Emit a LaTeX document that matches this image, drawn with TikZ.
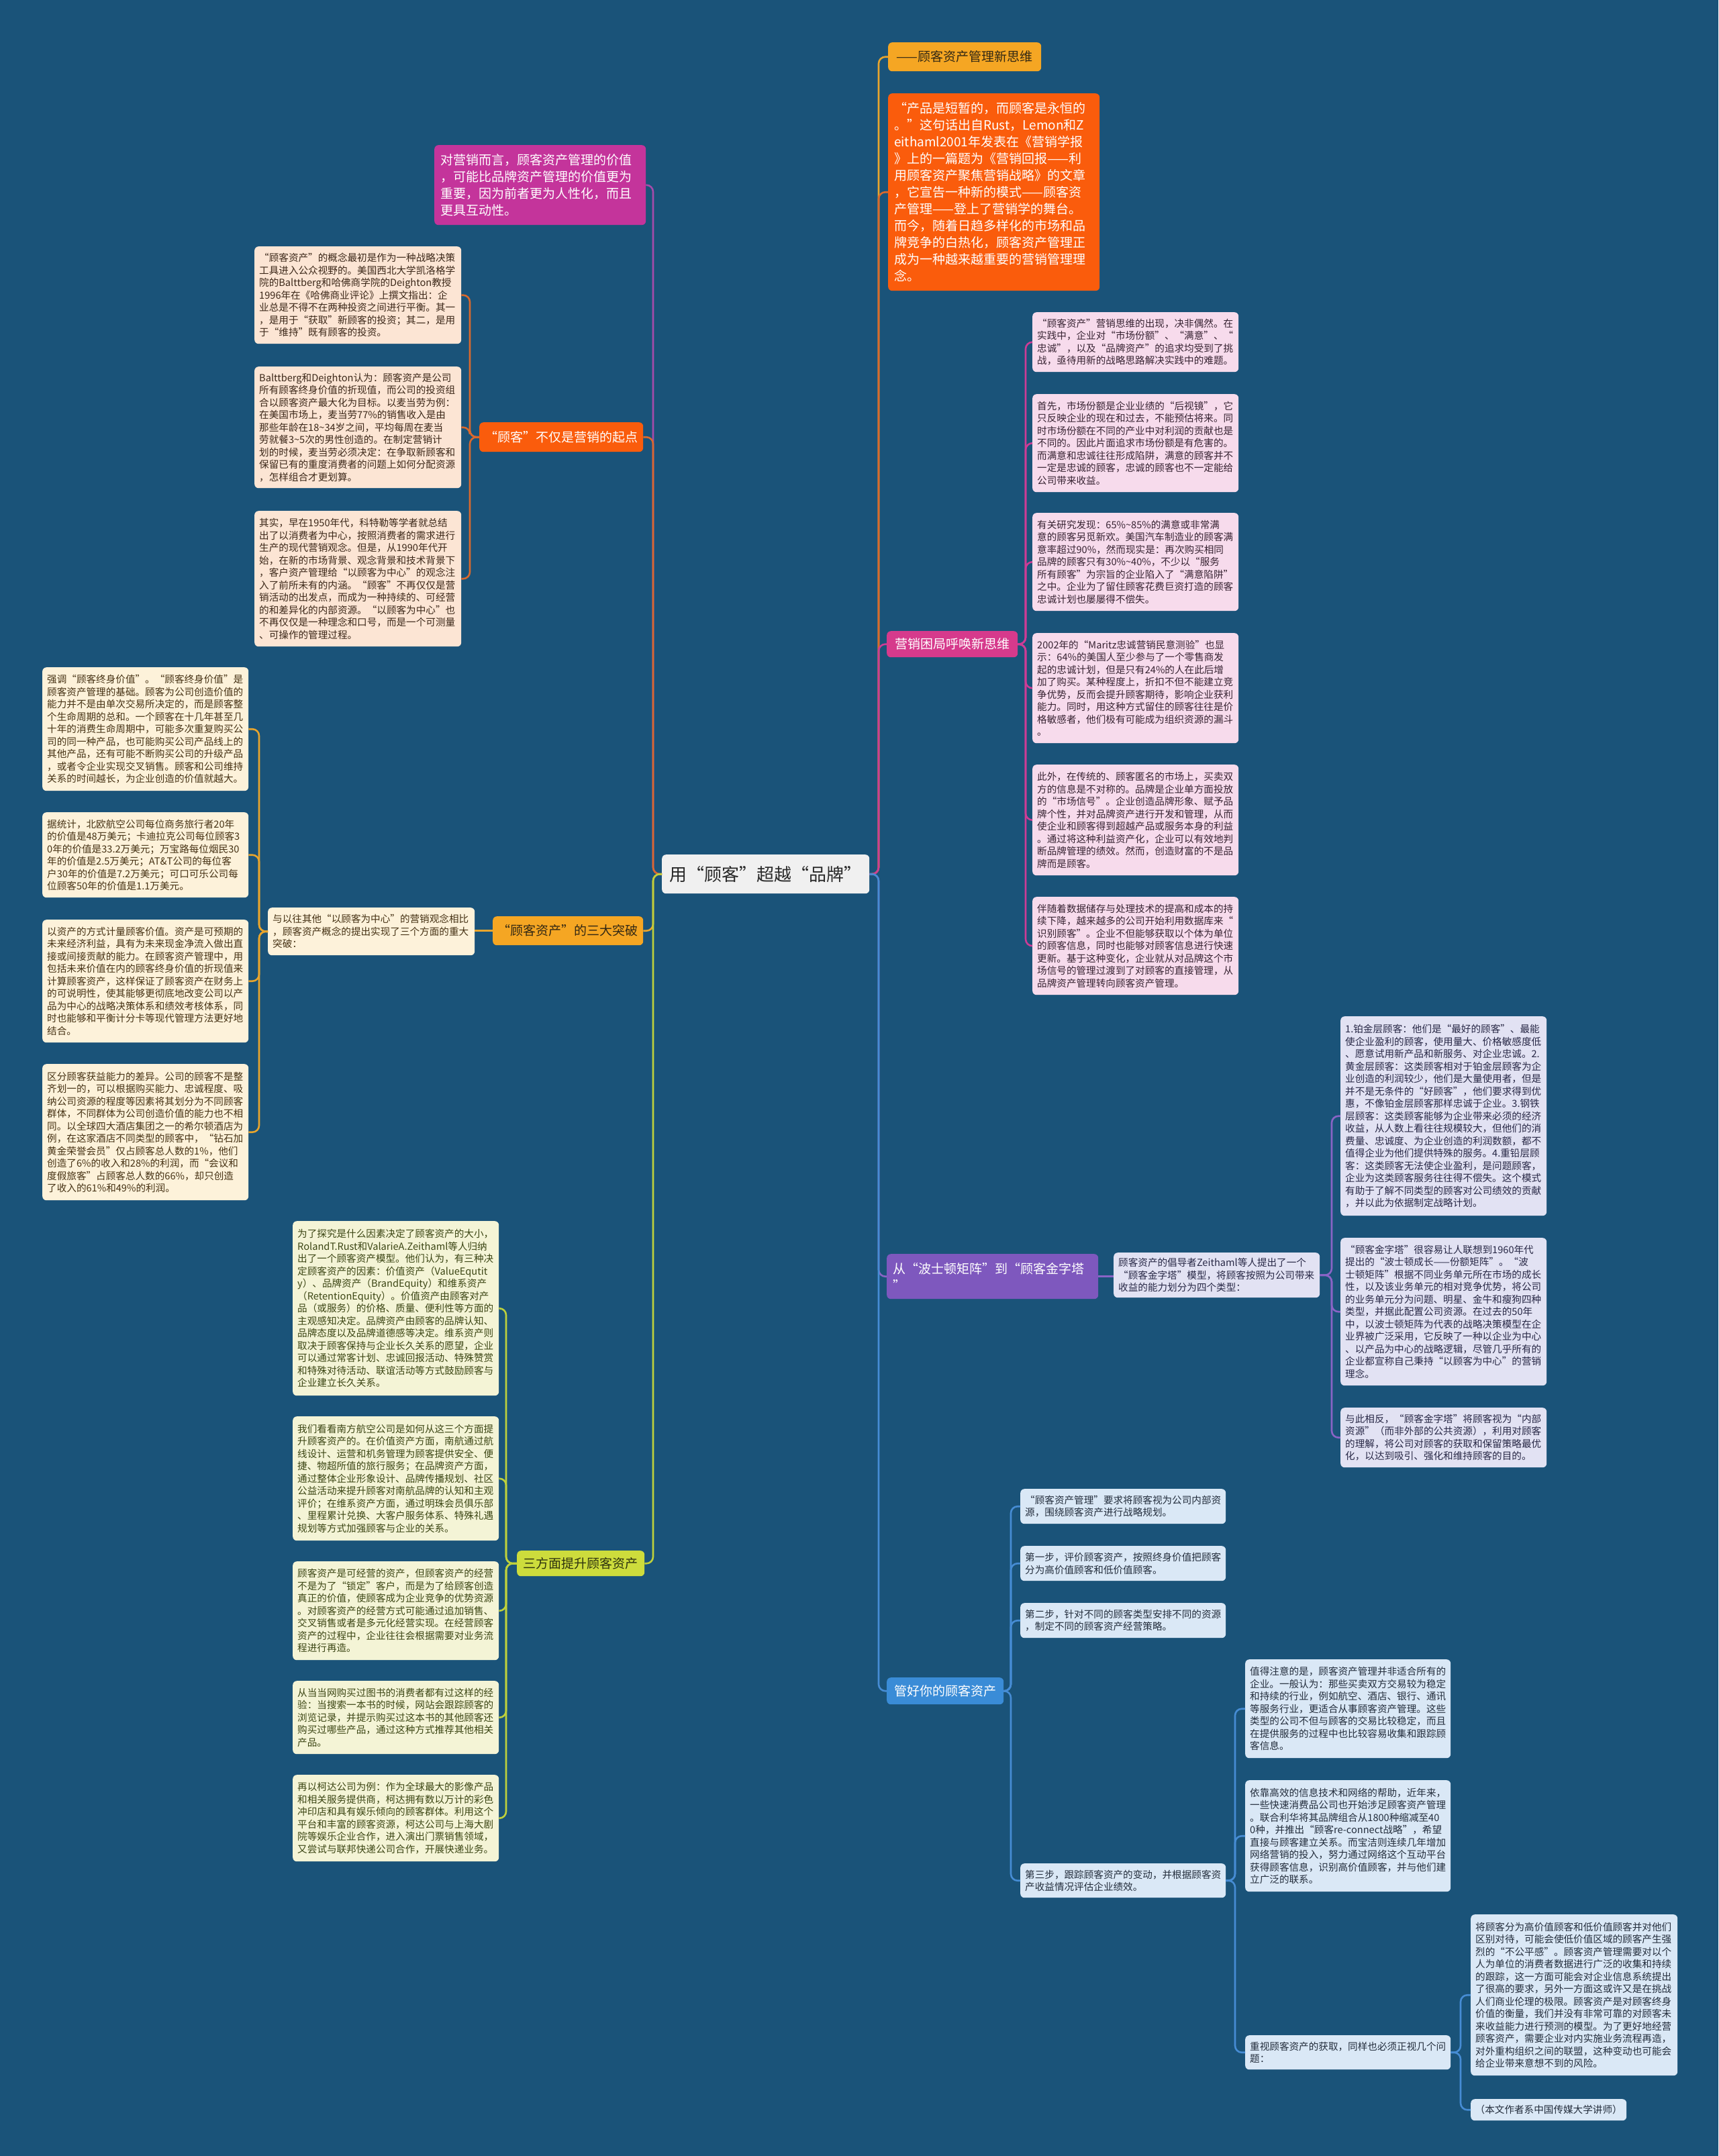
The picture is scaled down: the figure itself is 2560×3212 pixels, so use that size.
\documentclass[tikz,border=0pt]{standalone}
\usepackage{fontspec}
\setmainfont{Noto Sans CJK SC}
\usetikzlibrary{calc}
\definecolor{bgc}{RGB}{26,83,121}
\definecolor{rootf}{RGB}{240,240,240}
\definecolor{magf}{RGB}{196,52,155}
\definecolor{orf}{RGB}{250,92,12}
\definecolor{amf}{RGB}{245,166,35}
\definecolor{ygf}{RGB}{205,220,60}
\definecolor{pkf}{RGB}{214,58,140}
\definecolor{puf}{RGB}{126,88,190}
\definecolor{blf}{RGB}{58,140,215}
\definecolor{peach}{RGB}{252,229,212}
\definecolor{cream}{RGB}{253,242,218}
\definecolor{lyel}{RGB}{244,244,214}
\definecolor{lpink}{RGB}{247,219,236}
\definecolor{lpur}{RGB}{226,226,243}
\definecolor{lblue}{RGB}{218,232,246}
\definecolor{lmag}{RGB}{165,75,170}
\definecolor{lor}{RGB}{218,105,45}
\definecolor{lam}{RGB}{232,165,45}
\definecolor{lyg}{RGB}{190,208,60}
\definecolor{lpk}{RGB}{205,60,150}
\definecolor{lpu}{RGB}{138,100,198}
\definecolor{lbl}{RGB}{70,140,212}
\tikzset{
  box/.style={rounded corners=6pt, inner xsep=7pt, inner ysep=0pt, align=left},
  ttl/.style={rounded corners=6pt, inner sep=0pt, align=center},
  sm/.style={font=\fontsize{14.6}{18.5}\selectfont},
  bg/.style={font=\fontsize{19}{25}\selectfont},
  conn/.style={line width=2.6pt, rounded corners=10pt},
  peachbox/.style={box, sm, fill=peach, text={rgb,255:red,60;green,40;blue,25}},
  creambox/.style={box, sm, fill=cream, text={rgb,255:red,70;green,50;blue,20}},
  ylbox/.style={box, sm, fill=lyel, text={rgb,255:red,60;green,70;blue,20}},
  pkbox/.style={box, sm, fill=lpink, text={rgb,255:red,55;green,35;blue,50}},
  pubox/.style={box, sm, fill=lpur, text={rgb,255:red,40;green,40;blue,70}},
  blbox/.style={box, sm, fill=lblue, text={rgb,255:red,35;green,45;blue,60}},
}
\newcommand{\bx}[7]{\node[#6, anchor=north west, minimum width=#4pt, minimum height=#5pt, text width=#4pt-14pt] (#1) at (#2,#3) {#7};}
\newcommand{\tn}[7]{\node[#6, anchor=north west, minimum width=#4pt, minimum height=#5pt] (#1) at (#2,#3) {#7};}
\begin{document}
\begin{tikzpicture}[x=1pt,y=-1pt]
\useasboundingbox (0,0) rectangle (2560,3212);
\fill[bgc] (0,0) rectangle (2560,3212);
% trunk coordinates
\coordinate (tL) at (973,0);
\coordinate (tR) at (1309,0);
\coordinate (tqd) at (700,0);
\coordinate (tsd) at (386,0);
\coordinate (tsf) at (754,0);
\coordinate (tyx) at (1528,0);
\coordinate (tbd) at (1984,0);
\coordinate (tgh) at (1506,0);
\coordinate (tf4) at (1840,0);
\coordinate (tg3) at (2176,0);
% root
\tn{root}{986}{1273}{309}{58}{ttl, fill=rootf, text={rgb,255:red,40;green,40;blue,40}, font=\fontsize{26}{30}\selectfont}{用“顾客”超越“品牌”}
% ---------- left side ----------
\bx{mag}{647}{216}{311}{119}{box, bg, fill=magf, text=white, inner xsep=9pt}{对营销而言，顾客资产管理的价值\\，可能比品牌资产管理的价值更为\\重要，因为前者更为人性化，而且\\更具互动性。}
\tn{qd}{714}{629}{244}{44}{ttl, bg, fill=orf, text=white}{“顾客”不仅是营销的起点}
\bx{A1}{379}{367}{308}{145}{peachbox}{“顾客资产”的概念最初是作为一种战略决策\\工具进入公众视野的。美国西北大学凯洛格学\\院的Balttberg和哈佛商学院的Deighton教授\\1996年在《哈佛商业评论》上撰文指出：企\\业总是不得不在两种投资之间进行平衡。其一\\，是用于“获取”新顾客的投资；其二，是用\\于“维持”既有顾客的投资。}
\bx{A2}{379}{546}{308}{181}{peachbox}{Balttberg和Deighton认为：顾客资产是公司\\所有顾客终身价值的折现值，而公司的投资组\\合以顾客资产最大化为目标。以麦当劳为例：\\在美国市场上，麦当劳77\%的销售收入是由\\那些年龄在18\string~34岁之间，平均每周在麦当\\劳就餐3\string~5次的男性创造的。在制定营销计\\划的时候，麦当劳必须决定：在争取新顾客和\\保留已有的重度消费者的问题上如何分配资源\\，怎样组合才更划算。}
\bx{A3}{379}{761}{308}{202}{peachbox}{其实，早在1950年代，科特勒等学者就总结\\出了以消费者为中心，按照消费者的需求进行\\生产的现代营销观念。但是，从1990年代开\\始，在新的市场背景、观念背景和技术背景下\\，客户资产管理给“以顾客为中心”的观念注\\入了前所未有的内涵。“顾客”不再仅仅是营\\销活动的出发点，而成为一种持续的、可经营\\的和差异化的内部资源。“以顾客为中心”也\\不再仅仅是一种理念和口号，而是一个可测量\\、可操作的管理过程。}
\tn{sd}{734}{1365}{224}{43}{ttl, bg, fill=amf, text={rgb,255:red,50;green,40;blue,20}}{“顾客资产”的三大突破}
\bx{sdesc}{399}{1352}{308}{71}{creambox}{与以往其他“以顾客为中心”的营销观念相比\\，顾客资产概念的提出实现了三个方面的重大\\突破：}
\bx{B1}{63}{994}{307}{184}{creambox}{强调“顾客终身价值”。“顾客终身价值”是\\顾客资产管理的基础。顾客为公司创造价值的\\能力并不是由单次交易所决定的，而是顾客整\\个生命周期的总和。一个顾客在十几年甚至几\\十年的消费生命周期中，可能多次重复购买公\\司的同一种产品，也可能购买公司产品线上的\\其他产品，还有可能不断购买公司的升级产品\\，或者令企业实现交叉销售。顾客和公司维持\\关系的时间越长，为企业创造的价值就越大。}
\bx{B2}{63}{1210}{307}{127}{creambox}{据统计，北欧航空公司每位商务旅行者20年\\的价值是48万美元；卡迪拉克公司每位顾客3\\0年的价值是33.2万美元；万宝路每位烟民30\\年的价值是2.5万美元；AT\&T公司的每位客\\户30年的价值是7.2万美元；可口可乐公司每\\位顾客50年的价值是1.1万美元。}
\bx{B3}{63}{1370}{307}{183}{creambox}{以资产的方式计量顾客价值。资产是可预期的\\未来经济利益，具有为未来现金净流入做出直\\接或间接贡献的能力。在顾客资产管理中，用\\包括未来价值在内的顾客终身价值的折现值来\\计算顾客资产，这样保证了顾客资产在财务上\\的可说明性，使其能够更彻底地改变公司以产\\品为中心的战略决策体系和绩效考核体系，同\\时也能够和平衡计分卡等现代管理方法更好地\\结合。}
\bx{B4}{63}{1585}{307}{203}{creambox}{区分顾客获益能力的差异。公司的顾客不是整\\齐划一的，可以根据购买能力、忠诚程度、吸\\纳公司资源的程度等因素将其划分为不同顾客\\群体，不同群体为公司创造价值的能力也不相\\同。以全球四大酒店集团之一的希尔顿酒店为\\例，在这家酒店不同类型的顾客中，“钻石加\\黄金荣誉会员”仅占顾客总人数的1\%，他们\\创造了6\%的收入和28\%的利润，而“会议和\\度假旅客”占顾客总人数的66\%，却只创造\\了收入的61\%和49\%的利润。}
\tn{sf}{770}{2310}{190}{38}{ttl, bg, fill=ygf, text={rgb,255:red,45;green,50;blue,15}}{三方面提升顾客资产}
\bx{C1}{436}{1819}{307}{260}{ylbox}{为了探究是什么因素决定了顾客资产的大小，\\RolandT.Rust和ValarieA.Zeithaml等人归纳\\出了一个顾客资产模型。他们认为，有三种决\\定顾客资产的因素：价值资产（ValueEqutit\\y）、品牌资产（BrandEquity）和维系资产\\（RetentionEquity）。价值资产由顾客对产\\品（或服务）的价格、质量、便利性等方面的\\主观感知决定。品牌资产由顾客的品牌认知、\\品牌态度以及品牌道德感等决定。维系资产则\\取决于顾客保持与企业长久关系的愿望，企业\\可以通过常客计划、忠诚回报活动、特殊赞赏\\和特殊对待活动、联谊活动等方式鼓励顾客与\\企业建立长久关系。}
\bx{C2}{436}{2110}{307}{185}{ylbox}{我们看看南方航空公司是如何从这三个方面提\\升顾客资产的。在价值资产方面，南航通过航\\线设计、运营和机务管理为顾客提供安全、便\\捷、物超所值的旅行服务；在品牌资产方面，\\通过整体企业形象设计、品牌传播规划、社区\\公益活动来提升顾客对南航品牌的认知和主观\\评价；在维系资产方面，通过明珠会员俱乐部\\、里程累计兑换、大客户服务体系、特殊礼遇\\规划等方式加强顾客与企业的关系。}
\bx{C3}{436}{2326}{307}{147}{ylbox}{顾客资产是可经营的资产，但顾客资产的经营\\不是为了“锁定”客户，而是为了给顾客创造\\真正的价值，使顾客成为企业竞争的优势资源\\。对顾客资产的经营方式可能通过追加销售、\\交叉销售或者是多元化经营实现。在经营顾客\\资产的过程中，企业往往会根据需要对业务流\\程进行再造。}
\bx{C4}{436}{2504}{307}{109}{ylbox}{从当当网购买过图书的消费者都有过这样的经\\验：当搜索一本书的时候，网站会跟踪顾客的\\浏览记录，并提示购买过这本书的其他顾客还\\购买过哪些产品，通过这种方式推荐其他相关\\产品。}
\bx{C5}{436}{2644}{307}{129}{ylbox}{再以柯达公司为例：作为全球最大的影像产品\\和相关服务提供商，柯达拥有数以万计的彩色\\冲印店和具有娱乐倾向的顾客群体。利用这个\\平台和丰富的顾客资源，柯达公司与上海大剧\\院等娱乐企业合作，进入演出门票销售领域，\\又尝试与联邦快递公司合作，开展快递业务。}
% ---------- right side ----------
\tn{nx}{1323}{63}{228}{43}{ttl, bg, fill=amf, text={rgb,255:red,50;green,40;blue,20}}{——顾客资产管理新思维}
\bx{ob}{1323}{139}{311}{294}{box, bg, fill=orf, text=white, inner xsep=9pt}{“产品是短暂的，而顾客是永恒的\\。”这句话出自Rust，Lemon和Z\\eithaml2001年发表在《营销学报\\》上的一篇题为《营销回报——利\\用顾客资产聚焦营销战略》的文章\\，它宣告一种新的模式——顾客资\\产管理——登上了营销学的舞台。\\而今，随着日趋多样化的市场和品\\牌竞争的白热化，顾客资产管理正\\成为一种越来越重要的营销管理理\\念。}
\tn{yx}{1321}{940}{195}{39}{ttl, bg, fill=pkf, text=white}{营销困局呼唤新思维}
\bx{D1}{1538}{465}{307}{89}{pkbox}{“顾客资产”营销思维的出现，决非偶然。在\\实践中，企业对“市场份额”、“满意”、“\\忠诚”，以及“品牌资产”的追求均受到了挑\\战，亟待用新的战略思路解决实践中的难题。}
\bx{D2}{1538}{587}{307}{146}{pkbox}{首先，市场份额是企业业绩的“后视镜”，它\\只反映企业的现在和过去，不能预估将来。同\\时市场份额在不同的产业中对利润的贡献也是\\不同的。因此片面追求市场份额是有危害的。\\而满意和忠诚往往形成陷阱，满意的顾客并不\\一定是忠诚的顾客，忠诚的顾客也不一定能给\\公司带来收益。}
\bx{D3}{1538}{764}{307}{146}{pkbox}{有关研究发现：65\%\string~85\%的满意或非常满\\意的顾客另觅新欢。美国汽车制造业的顾客满\\意率超过90\%，然而现实是：再次购买相同\\品牌的顾客只有30\%\string~40\%，不少以“服务\\所有顾客”为宗旨的企业陷入了“满意陷阱”\\之中。企业为了留住顾客花费巨资打造的顾客\\忠诚计划也屡屡得不偿失。}
\bx{D4}{1538}{943}{307}{164}{pkbox}{2002年的“Maritz忠诚营销民意测验”也显\\示：64\%的美国人至少参与了一个零售商发\\起的忠诚计划，但是只有24\%的人在此后增\\加了购买。某种程度上，折扣不但不能建立竞\\争优势，反而会提升顾客期待，影响企业获利\\能力。同时，用这种方式留住的顾客往往是价\\格敏感者，他们极有可能成为组织资源的漏斗\\。}
\bx{D5}{1538}{1139}{307}{165}{pkbox}{此外，在传统的、顾客匿名的市场上，买卖双\\方的信息是不对称的。品牌是企业单方面投放\\的“市场信号”。企业创造品牌形象、赋予品\\牌个性，并对品牌资产进行开发和管理，从而\\使企业和顾客得到超越产品或服务本身的利益\\。通过将这种利益资产化，企业可以有效地判\\断品牌管理的绩效。然而，创造财富的不是品\\牌而是顾客。}
\bx{D6}{1538}{1336}{307}{146}{pkbox}{伴随着数据储存与处理技术的提高和成本的持\\续下降，越来越多的公司开始利用数据库来“\\识别顾客”。企业不但能够获取以个体为单位\\的顾客信息，同时也能够对顾客信息进行快速\\更新。基于这种变化，企业就从对品牌这个市\\场信号的管理过渡到了对顾客的直接管理，从\\品牌资产管理转向顾客资产管理。}
\bx{bs}{1321}{1868}{311}{67}{box, bg, fill=puf, text=white, inner xsep=9pt}{从“波士顿矩阵”到“顾客金字塔\\”}
\bx{bdesc}{1659}{1866}{307}{67}{pubox}{顾客资产的倡导者Zeithaml等人提出了一个\\“顾客金字塔”模型，将顾客按照为公司带来\\收益的能力划分为四个类型：}
\bx{E1}{1997}{1514}{307}{297}{pubox}{1.铂金层顾客：他们是“最好的顾客”、最能\\使企业盈利的顾客，使用量大、价格敏感度低\\、愿意试用新产品和新服务、对企业忠诚。2.\\黄金层顾客：这类顾客相对于铂金层顾客为企\\业创造的利润较少，他们是大量使用者，但是\\并不是无条件的“好顾客”，他们要求得到优\\惠，不像铂金层顾客那样忠诚于企业。3.钢铁\\层顾客：这类顾客能够为企业带来必须的经济\\收益，从人数上看往往规模较大，但他们的消\\费量、忠诚度、为企业创造的利润数额，都不\\值得企业为他们提供特殊的服务。4.重铅层顾\\客：这类顾客无法使企业盈利，是问题顾客，\\企业为这类顾客服务往往得不偿失。这个模式\\有助于了解不同类型的顾客对公司绩效的贡献\\，并以此为依据制定战略计划。}
\bx{E2}{1997}{1844}{307}{220}{pubox}{“顾客金字塔”很容易让人联想到1960年代\\提出的“波士顿成长——份额矩阵”。“波\\士顿矩阵”根据不同业务单元所在市场的成长\\性，以及该业务单元的相对竞争优势，将公司\\的业务单元分为问题、明星、金牛和瘦狗四种\\类型，并据此配置公司资源。在过去的50年\\中，以波士顿矩阵为代表的战略决策模型在企\\业界被广泛采用，它反映了一种以企业为中心\\、以产品为中心的战略逻辑，尽管几乎所有的\\企业都宣称自己秉持“以顾客为中心”的营销\\理念。}
\bx{E3}{1997}{2097}{307}{89}{pubox}{与此相反，“顾客金字塔”将顾客视为“内部\\资源”（而非外部的公共资源），利用对顾客\\的理解，将公司对顾客的获取和保留策略最优\\化，以达到吸引、强化和维持顾客的目的。}
\tn{gh}{1321}{2499}{174}{40}{ttl, bg, fill=blf, text=white}{管好你的顾客资产}
\bx{F1}{1520}{2218}{306}{52}{blbox}{“顾客资产管理”要求将顾客视为公司内部资\\源，围绕顾客资产进行战略规划。}
\bx{F2}{1520}{2303}{306}{52}{blbox}{第一步，评价顾客资产，按照终身价值把顾客\\分为高价值顾客和低价值顾客。}
\bx{F3}{1520}{2388}{306}{52}{blbox}{第二步，针对不同的顾客类型安排不同的资源\\，制定不同的顾客资产经营策略。}
\bx{F4}{1520}{2776}{306}{51}{blbox}{第三步，跟踪顾客资产的变动，并根据顾客资\\产收益情况评估企业绩效。}
\bx{G1}{1855}{2472}{306}{147}{blbox}{值得注意的是，顾客资产管理并非适合所有的\\企业。一般认为：那些买卖双方交易较为稳定\\和持续的行业，例如航空、酒店、银行、通讯\\等服务行业，更适合从事顾客资产管理。这些\\类型的公司不但与顾客的交易比较稳定，而且\\在提供服务的过程中也比较容易收集和跟踪顾\\客信息。}
\bx{G2}{1855}{2652}{306}{166}{blbox}{依靠高效的信息技术和网络的帮助，近年来，\\一些快速消费品公司也开始涉足顾客资产管理\\。联合利华将其品牌组合从1800种缩减至40\\0种，并推出“顾客re-connect战略”，希望\\直接与顾客建立关系。而宝洁则连续几年增加\\网络营销的投入，努力通过网络这个互动平台\\获得顾客信息，识别高价值顾客，并与他们建\\立广泛的联系。}
\bx{G3}{1855}{3032}{306}{51}{blbox}{重视顾客资产的获取，同样也必须正视几个问\\题：}
\bx{H1}{2191}{2852}{308}{240}{blbox}{将顾客分为高价值顾客和低价值顾客并对他们\\区别对待，可能会使低价值区域的顾客产生强\\烈的“不公平感”。顾客资产管理需要对以个\\人为单位的消费者数据进行广泛的收集和持续\\的跟踪，这一方面可能会对企业信息系统提出\\了很高的要求，另外一方面这或许又是在挑战\\人们商业伦理的极限。顾客资产是对顾客终身\\价值的衡量，我们并没有非常可靠的对顾客未\\来收益能力进行预测的模型。为了更好地经营\\顾客资产，需要企业对内实施业务流程再造，\\对外重构组织之间的联盟，这种变动也可能会\\给企业带来意想不到的风险。}
\tn{H2}{2191}{3127}{232}{32}{ttl, sm, fill=lblue, text={rgb,255:red,35;green,45;blue,60}}{（本文作者系中国传媒大学讲师）}
% ---------- connectors: root, left ----------
\draw[conn, lmag] (root.west) -- (root.west -| tL) |- (mag.east);
\draw[conn, lor] (root.west) -- (root.west -| tL) |- (qd.east);
\draw[conn, lam] (root.west) -- (root.west -| tL) |- (sd.east);
\draw[conn, lyg] (root.west) -- (root.west -| tL) |- (sf.east);
% root, right
\draw[conn, lam] (root.east) -- (root.east -| tR) |- (nx.west);
\draw[conn, lor] (root.east) -- (root.east -| tR) |- (ob.west);
\draw[conn, lpk] (root.east) -- (root.east -| tR) |- (yx.west);
\draw[conn, lpu] (root.east) -- (root.east -| tR) |- (bs.west);
\draw[conn, lbl] (root.east) -- (root.east -| tR) |- (gh.west);
% sub connectors
\foreach \c in {A1,A2,A3} \draw[conn, lor] (qd.west) -- (qd.west -| tqd) |- (\c.east);
\draw[conn, lam] (sd.west) -- (sd.west -| sdesc.east);
\foreach \c in {B1,B2,B3,B4} \draw[conn, lam] (sdesc.west) -- (sdesc.west -| tsd) |- (\c.east);
\foreach \c in {C1,C2,C3,C4,C5} \draw[conn, lyg] (sf.west) -- (sf.west -| tsf) |- (\c.east);
\foreach \c in {D1,D2,D3,D4,D5,D6} \draw[conn, lpk] (yx.east) -- (yx.east -| tyx) |- (\c.west);
\draw[conn, lpu] (bs.east) -- (bs.east -| bdesc.west);
\foreach \c in {E1,E2,E3} \draw[conn, lpu] (bdesc.east) -- (bdesc.east -| tbd) |- (\c.west);
\foreach \c in {F1,F2,F3,F4} \draw[conn, lbl] (gh.east) -- (gh.east -| tgh) |- (\c.west);
\foreach \c in {G1,G2,G3} \draw[conn, lbl] (F4.east) -- (F4.east -| tf4) |- (\c.west);
\foreach \c in {H1,H2} \draw[conn, lbl] (G3.east) -- (G3.east -| tg3) |- (\c.west);
\end{tikzpicture}
\end{document}
